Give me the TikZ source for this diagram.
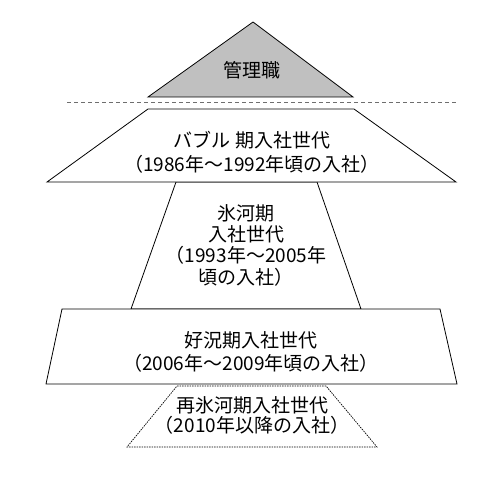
\documentclass[tikz,border=0pt]{standalone}
\usepackage{fontspec}
\setmainfont{Noto Sans CJK JP}
\definecolor{mgrfill}{RGB}{192,192,192}
\definecolor{sepgray}{RGB}{110,110,110}
\tikzset{
  tier/.style={draw=black, line width=0.8pt, fill=white, line join=miter},
  lbl/.style={align=center, inner sep=0pt, text=black},
}
\newcommand{\lblfont}[1]{\fontsize{19}{#1}\selectfont}
\begin{document}
\begin{tikzpicture}[x=1pt, y=-1pt]
\useasboundingbox (0,0) rectangle (489,481);
% manager triangle
\draw[tier, fill=mgrfill] (148,97) -- (253,22) -- (353,97) -- cycle;
\node[lbl, font=\lblfont{21}] (mgr) at (252,70) {管理職};
% separator
\draw[sepgray, line width=0.8pt, dash pattern=on 4pt off 3pt] (67,102.5) -- (457,102.5);
% ice age tier (drawn first, beneath neighbours)
\draw[tier] (176,182) -- (317,182) -- (361,309) -- (131,309) -- cycle;
% bubble tier
\draw[tier] (148,109) -- (354,109) -- (456,182) -- (47,182) -- cycle;
% re-ice age tier
\draw[tier, line width=0.7pt, dash pattern=on 1.5pt off 1pt] (177,386) -- (326,386) -- (377,447) -- (127,447) -- cycle;
% boom tier
\draw[tier] (62,309) -- (440,309) -- (457,384) -- (46,384) -- cycle;
% labels
\node[lbl, font=\lblfont{24}] (bubble) at (252,152) {バブル 期入社世代\\（1986年～1992年頃の入社）};
\node[lbl, font=\lblfont{21.3}] (ice) at (246,245) {氷河期\\入社世代\\（1993年～2005年\\頃の入社）};
\node[lbl, font=\lblfont{23}] (boom) at (251,351.5) {好況期入社世代\\（2006年～2009年頃の入社）};
\node[lbl, font=\lblfont{20}] (reice) at (252,415) {再氷河期入社世代\\（2010年以降の入社）};
\end{tikzpicture}
\end{document}
